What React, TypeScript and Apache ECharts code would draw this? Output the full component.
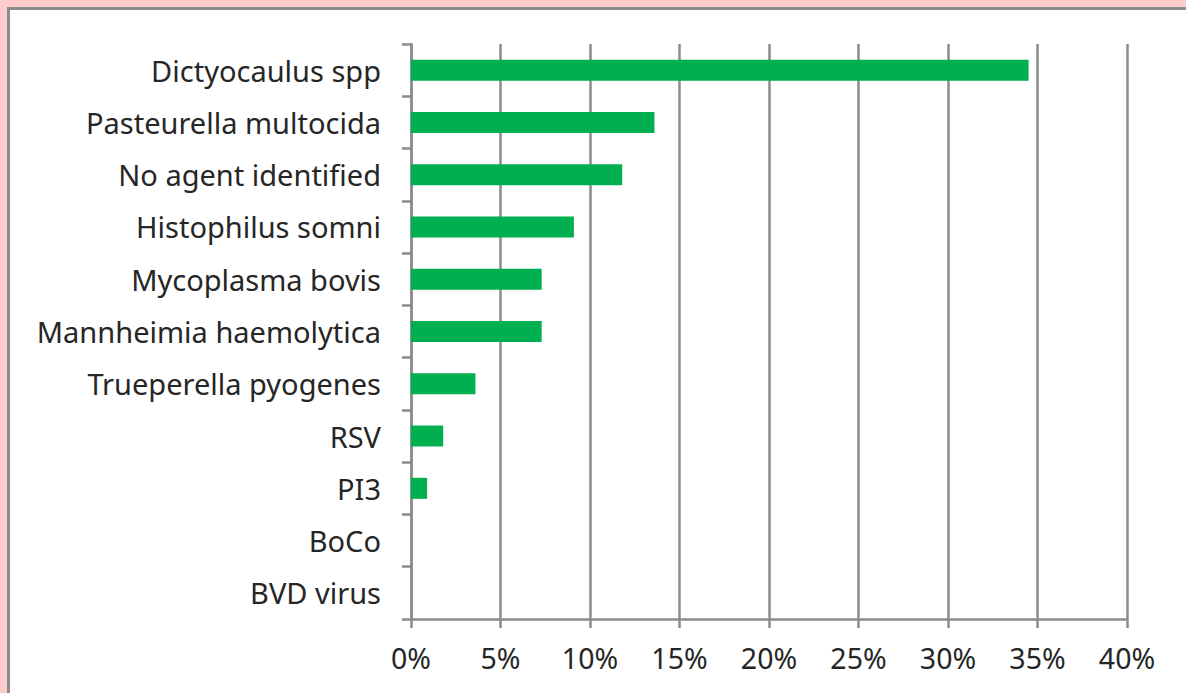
import React, { useEffect, useRef } from "react";
import * as echarts from "echarts";

const categories = [
  "Dictyocaulus spp",
  "Pasteurella multocida",
  "No agent identified",
  "Histophilus somni",
  "Mycoplasma bovis",
  "Mannheimia haemolytica",
  "Trueperella pyogenes",
  "RSV",
  "PI3",
  "BoCo",
  "BVD virus",
];
const values = [0.345, 0.136, 0.118, 0.091, 0.073, 0.073, 0.036, 0.018, 0.009, 0, 0];
const xTicks = { min: 0, max: 0.4, interval: 0.05 };

export default function App() {
  const ref = useRef<HTMLDivElement>(null);
  useEffect(() => {
    document.body.style.margin = "0";
    const chart = echarts.init(ref.current!, null, { renderer: "svg" });
    const font = "'Noto Sans', sans-serif";
    chart.setOption({
      animation: false,
      backgroundColor: "#ffcccc",
      graphic: [
        {
          type: "rect",
          z: -10,
          shape: { x: 8.5, y: 8.5, width: 1300, height: 800 },
          style: { fill: "#ffffff", stroke: "#8c8c8c", lineWidth: 3 },
        },
      ],
      grid: { left: 411, right: 59, top: 44, bottom: 74, containLabel: false },
      xAxis: {
        type: "value",
        min: xTicks.min,
        max: xTicks.max,
        interval: xTicks.interval,
        axisLine: { show: true, lineStyle: { color: "#8c8c8c", width: 2.5 } },
        axisTick: { show: true, length: 9, lineStyle: { color: "#8c8c8c", width: 2.5 } },
        splitLine: { show: true, lineStyle: { color: "#8c8c8c", width: 2.5 } },
        axisLabel: {
          formatter: (v: number) => Math.round(v * 100) + "%",
          fontFamily: font,
          fontSize: 28.5,
          color: "#262626",
          margin: 24,
        },
      },
      yAxis: {
        type: "category",
        data: categories,
        inverse: true,
        axisLine: { show: true, lineStyle: { color: "#8c8c8c", width: 2.5 } },
        axisTick: { show: true, length: 9, lineStyle: { color: "#8c8c8c", width: 2.5 } },
        axisLabel: {
          fontFamily: font,
          fontSize: 29,
          color: "#262626",
          margin: 30,
        },
      },
      series: [
        {
          type: "bar",
          data: values,
          barWidth: 21,
          itemStyle: { color: "#00b050" },
        },
      ],
    });
    return () => chart.dispose();
  }, []);
  return <div ref={ref} style={{ width: 1186, height: 693 }} />;
}
